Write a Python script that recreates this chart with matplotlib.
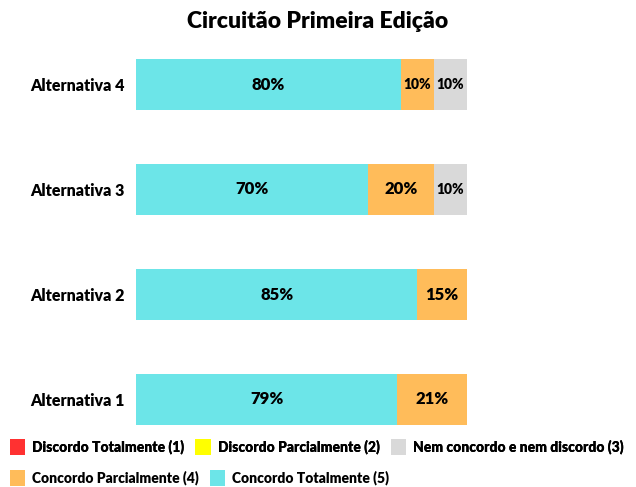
import matplotlib
matplotlib.use("Agg")
import matplotlib.pyplot as plt
from matplotlib.patches import Patch

plt.rcParams['font.family'] = ['Lato', 'DejaVu Sans']
plt.rcParams['font.weight'] = 'heavy'

# Data
categories = ["Alternativa 1", "Alternativa 2", "Alternativa 3", "Alternativa 4"]
series_names = ["Discordo Totalmente (1)", "Discordo Parcialmente (2)",
                "Nem concordo e nem discordo (3)", "Concordo Parcialmente (4)",
                "Concordo Totalmente (5)"]
discordo_total = [0, 0, 0, 0]
discordo_parcial = [0, 0, 0, 0]
nem = [0, 0, 10, 10]
concordo_parcial = [21, 15, 20, 10]
concordo_total = [79, 85, 70, 80]

colors = ["#FF3131", "#FFFF00", "#D9D9D9", "#FFBC5A", "#6CE5E8"]

fig = plt.figure(figsize=(6.36, 4.87), dpi=100)
ax = fig.add_axes([136 / 636, 35 / 487, 331 / 636, 420 / 487])

# stack order left to right: Concordo Totalmente, Concordo Parcialmente, Nem, Discordo...
stack = [(concordo_total, colors[4]), (concordo_parcial, colors[3]), (nem, colors[2]),
         (discordo_parcial, colors[1]), (discordo_total, colors[0])]
ypos = range(len(categories))
left = [0] * len(categories)
for values, col in stack:
    bars = ax.barh(ypos, values, left=left, color=col, height=0.49)
    for b, v in zip(bars, values):
        if v > 0:
            fs = 12 if v >= 15 else 10
            ax.text(b.get_x() + b.get_width() / 2, b.get_y() + b.get_height() / 2,
                    f"{v}%", ha="center", va="center", fontsize=fs, fontweight="heavy")
    left = [l + v for l, v in zip(left, values)]

ax.set_xlim(0, 100)
ax.set_ylim(-0.5, 3.5)
ax.set_yticks(list(ypos))
ax.set_yticklabels(categories, fontsize=11.5, fontweight="heavy")
ax.tick_params(axis="y", length=0, pad=8)
ax.set_xticks([])
for s in ax.spines.values():
    s.set_visible(False)

fig.text(0.5, 1 - 22 / 487, "Circuitão Primeira Edição", ha="center", va="center",
         fontsize=16.5, fontweight="heavy")

handles = [Patch(facecolor=c, edgecolor="none") for c in colors]
legend_kw = dict(frameon=False, handlelength=1.1, handleheight=1.3, handletextpad=0.5,
                 columnspacing=0.8, borderaxespad=0, borderpad=0,
                 prop={"size": 10, "weight": "heavy"})
leg1 = fig.legend(handles[:3], series_names[:3], ncol=3, loc="center left",
                  bbox_to_anchor=(10 / 636, 1 - 447 / 487), **legend_kw)
fig.add_artist(leg1)
fig.legend(handles[3:], series_names[3:], ncol=2, loc="center left",
           bbox_to_anchor=(10 / 636, 1 - 478 / 487), **legend_kw)

fig.savefig("out.png", dpi=100)
